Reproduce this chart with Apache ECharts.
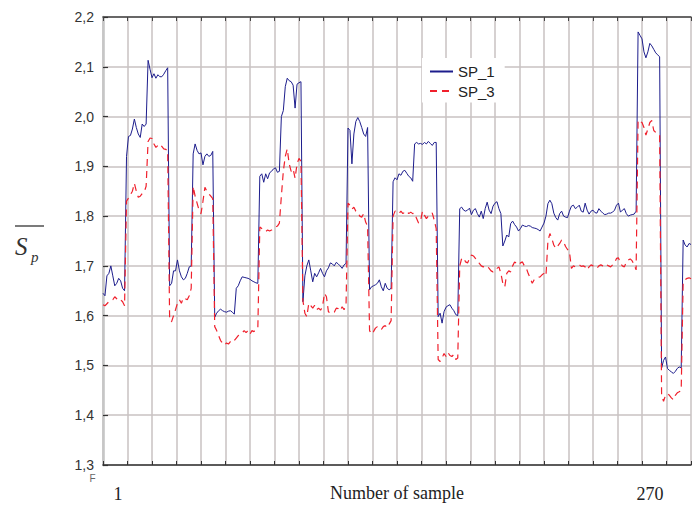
<!DOCTYPE html>
<html>
<head>
<meta charset="utf-8">
<script src="https://cdn.jsdelivr.net/npm/echarts@6/dist/echarts.min.js"></script>
<style>
html, body { margin: 0; padding: 0; background: #fff; }
#main { width: 693px; height: 505px; }
</style>
</head>
<body>
<div id="main"></div>
<script>
// SP_1 / SP_3 per sample (sample 0..300)
var sp1 = [
	1.645, 1.64, 1.68, 1.685, 1.70, 1.68, 1.66, 1.665, 1.675, 1.67, 1.655, 1.65,
	1.92, 1.96, 1.962, 1.975, 1.995, 1.978, 1.965, 1.958, 1.985, 1.98, 1.985,
	2.113, 2.095, 2.078, 2.086, 2.077, 2.084, 2.08, 2.08, 2.085, 2.092, 2.098,
	1.66, 1.665, 1.69, 1.69, 1.712, 1.69, 1.678, 1.672, 1.675, 1.685, 1.698, 1.70,
	1.925, 1.945, 1.932, 1.925, 1.927, 1.903, 1.92, 1.925, 1.92, 1.922, 1.93,
	1.597, 1.605, 1.61, 1.613, 1.61, 1.608, 1.607, 1.609, 1.61, 1.607, 1.603, 1.655,
	1.66, 1.67, 1.678, 1.677, 1.676, 1.675, 1.673, 1.67, 1.668, 1.666, 1.665,
	1.88, 1.885, 1.868, 1.885, 1.875, 1.887, 1.89, 1.895, 1.897, 1.888, 1.89,
	2.0, 2.012, 2.06, 2.077, 2.072, 2.07, 2.063, 2.017, 2.065, 2.068, 2.07,
	1.628, 1.68, 1.70, 1.712, 1.69, 1.668, 1.685, 1.678, 1.686, 1.695, 1.685, 1.678,
	1.69, 1.696, 1.706, 1.704, 1.70, 1.707, 1.704, 1.70, 1.695, 1.702, 1.705,
	1.977, 1.972, 1.905, 1.965, 1.99, 1.998, 1.99, 1.978, 1.965, 1.96, 1.978,
	1.652, 1.658, 1.66, 1.662, 1.665, 1.672, 1.658, 1.65, 1.665, 1.655, 1.652, 1.655,
	1.869, 1.877, 1.873, 1.885, 1.882, 1.89, 1.892, 1.886, 1.88, 1.877, 1.87,
	1.945, 1.948, 1.945, 1.946, 1.944, 1.948, 1.945, 1.95, 1.946, 1.942, 1.948, 1.948,
	1.598, 1.605, 1.585, 1.608, 1.617, 1.62, 1.622, 1.615, 1.61, 1.602, 1.60,
	1.815, 1.818, 1.812, 1.81, 1.812, 1.816, 1.803, 1.812, 1.815, 1.805, 1.798, 1.81,
	1.795, 1.815, 1.828, 1.812, 1.805, 1.82, 1.826, 1.829, 1.815, 1.805, 1.74,
	1.75, 1.762, 1.758, 1.785, 1.79, 1.783, 1.778, 1.77, 1.775, 1.782, 1.78,
	1.779, 1.781, 1.78, 1.777, 1.776, 1.775, 1.773, 1.77, 1.778, 1.786,
	1.80, 1.825, 1.832, 1.825, 1.806, 1.797, 1.792, 1.805, 1.81, 1.80, 1.798, 1.797,
	1.81, 1.82, 1.822, 1.815, 1.818, 1.822, 1.81, 1.808, 1.826, 1.812, 1.804, 1.81,
	1.812, 1.807, 1.806, 1.815, 1.81, 1.806, 1.803, 1.804, 1.806, 1.806, 1.808, 1.812,
	1.822, 1.826, 1.808, 1.812, 1.815, 1.805, 1.80, 1.802, 1.803, 1.804, 1.81,
	2.17, 2.163, 2.156, 2.13, 2.118, 2.13, 2.147, 2.142, 2.135, 2.128, 2.124, 2.12,
	1.495, 1.51, 1.517, 1.494, 1.49, 1.487, 1.484, 1.488, 1.494, 1.497, 1.495,
	1.752, 1.742, 1.738, 1.745, 1.743
];
var sp3 = [
	1.622, 1.62, 1.624, 1.628, 1.63, 1.632, 1.638, 1.634, 1.63, 1.632, 1.628, 1.62,
	1.83, 1.836, 1.843, 1.85, 1.866, 1.85, 1.838, 1.84, 1.845, 1.848, 1.86, 1.95,
	1.957, 1.956, 1.945, 1.938, 1.942, 1.945, 1.94, 1.935, 1.934, 1.932,
	1.59, 1.588, 1.60, 1.612, 1.625, 1.632, 1.625, 1.636, 1.634, 1.632, 1.64, 1.655,
	1.86, 1.84, 1.826, 1.812, 1.805, 1.83, 1.858, 1.85, 1.845, 1.84, 1.835,
	1.578, 1.57, 1.56, 1.55, 1.545, 1.541, 1.545, 1.543, 1.548, 1.552, 1.55, 1.555,
	1.56, 1.562, 1.565, 1.57, 1.566, 1.57, 1.563, 1.57, 1.568, 1.572, 1.575,
	1.778, 1.775, 1.772, 1.769, 1.772, 1.77, 1.772, 1.775, 1.778, 1.78, 1.786, 1.84, 1.89,
	1.92, 1.935, 1.905, 1.89, 1.895, 1.876, 1.905, 1.916, 1.91,
	1.63, 1.605, 1.598, 1.625, 1.62, 1.615, 1.621, 1.612, 1.615, 1.611, 1.618, 1.645,
	1.638, 1.608, 1.605, 1.605, 1.607, 1.615, 1.614, 1.61, 1.618, 1.612, 1.622,
	1.826, 1.822, 1.814, 1.818, 1.81, 1.808, 1.80, 1.798, 1.805, 1.788, 1.78,
	1.57, 1.563, 1.568, 1.575, 1.578, 1.575, 1.572, 1.578, 1.58, 1.576, 1.583, 1.59,
	1.80, 1.81, 1.808, 1.805, 1.81, 1.805, 1.808, 1.81, 1.805, 1.808, 1.805, 1.806,
	1.795, 1.786, 1.79, 1.81, 1.802, 1.795, 1.80, 1.805, 1.806, 1.792, 1.775,
	1.512, 1.508, 1.515, 1.524, 1.518, 1.526, 1.52, 1.518, 1.522, 1.512, 1.515,
	1.70, 1.715, 1.716, 1.708, 1.706, 1.715, 1.722, 1.72, 1.715, 1.712, 1.705, 1.70,
	1.698, 1.70, 1.70, 1.695, 1.69, 1.688, 1.69, 1.695, 1.698, 1.685, 1.665, 1.658,
	1.685, 1.69, 1.688, 1.70, 1.708, 1.705, 1.702, 1.706, 1.708, 1.70, 1.695, 1.684,
	1.675, 1.665, 1.672, 1.675, 1.677, 1.678, 1.682, 1.685, 1.68,
	1.75, 1.765, 1.755, 1.742, 1.735, 1.74, 1.745, 1.752, 1.748, 1.739, 1.733, 1.728,
	1.695, 1.70, 1.698, 1.70, 1.702, 1.699, 1.70, 1.698, 1.692, 1.698, 1.702, 1.70,
	1.698, 1.695, 1.70, 1.702, 1.70, 1.698, 1.702, 1.70, 1.698, 1.702, 1.706, 1.715,
	1.716, 1.705, 1.70, 1.698, 1.708, 1.712, 1.714, 1.71, 1.702, 1.692,
	1.993, 1.99, 1.988, 1.978, 1.963, 1.975, 1.988, 1.992, 1.972, 1.968, 1.966, 1.963,
	1.44, 1.428, 1.44, 1.443, 1.44, 1.435, 1.431, 1.44, 1.445, 1.447, 1.45,
	1.668, 1.672, 1.675, 1.676, 1.674
];
var seriesNames = ['SP_1', 'SP_3'];
var xEndLabels = ['1', '270'];
var xTitle = 'Number of sample';
var yMin = 1.3, yMax = 2.2, yStep = 0.1;
var xMax = 300, xStep = 12.5;

function toPoints(arr) {
	var out = [];
	for (var i = 0; i < arr.length; i++) {
		out.push([i, arr[i]]);
	}
	return out;
}

var myChart = echarts.init(document.getElementById('main'), null, { renderer: 'svg' });
myChart.setOption({
	animation: false,
	backgroundColor: '#fff',
	grid: { left: 103, right: 2, top: 17, bottom: 40, outerBoundsMode: 'none', containLabel: false },
	legend: {
		data: seriesNames,
		orient: 'vertical',
		left: 422,
		top: 58,
		itemWidth: 23,
		itemHeight: 14,
		itemGap: 4.6,
		padding: [6, 10, 4, 7],
		backgroundColor: '#fff',
		itemStyle: { opacity: 0 },
		textStyle: { fontFamily: 'Liberation Sans', fontSize: 15, color: '#222' }
	},
	xAxis: [{
		type: 'value',
		min: 0,
		max: xMax,
		interval: xStep,
		name: xTitle,
		nameLocation: 'middle',
		nameGap: 19,
		nameTextStyle: { fontFamily: 'Liberation Serif', fontSize: 18, color: '#222' },
		axisLine: { onZero: false, lineStyle: { color: '#333', width: 1.5 } },
		axisTick: { inside: true, length: 4, lineStyle: { color: '#333', width: 1 } },
		axisLabel: { show: false },
		splitLine: { show: true, lineStyle: { color: '#c9c2c2', width: 1.5 } }
	}, {
		type: 'value',
		position: 'top',
		min: 0,
		max: xMax,
		interval: xStep,
		axisLine: { onZero: false, lineStyle: { color: '#444', width: 1.5 } },
		axisTick: { inside: true, length: 4, lineStyle: { color: '#444', width: 1 } },
		axisLabel: { show: false },
		splitLine: { show: false }
	}],
	yAxis: {
		type: 'value',
		min: yMin,
		max: yMax,
		interval: yStep,
		axisLine: { show: true, onZero: false, lineStyle: { color: '#c6c6c6', width: 2.6 } },
		axisTick: { show: true, inside: true, length: 5, lineStyle: { color: '#333', width: 1.2 } },
		axisLabel: {
			margin: 9,
			fontFamily: 'Liberation Sans',
			fontSize: 14,
			color: '#333',
			formatter: function(v) {
				return v.toFixed(1).replace('.', ',');
			}
		},
		splitLine: { show: true, lineStyle: { color: '#c9c2c2', width: 1.5 } }
	},
	series: [{
		name: seriesNames[0],
		type: 'line',
		symbol: 'none',
		data: toPoints(sp1),
		lineStyle: { color: '#1d1d8c', width: 1 },
		itemStyle: { color: '#1d1d8c' }
	}, {
		name: seriesNames[1],
		type: 'line',
		symbol: 'none',
		data: toPoints(sp3),
		lineStyle: { color: '#f0202c', width: 1.2, type: [7, 5] },
		itemStyle: { color: '#f0202c' }
	}],
	graphic: [
		// y axis title: S with overline and subscript p
		{ type: 'line', shape: { x1: 15, y1: 226, x2: 44, y2: 226 }, style: { stroke: '#333', lineWidth: 1.3 } },
		{ type: 'text', x: 15, y: 246, style: { text: 'S', fontFamily: 'Liberation Serif', fontStyle: 'italic', fontSize: 25, fill: '#333', align: 'left', verticalAlign: 'middle' } },
		{ type: 'text', x: 31, y: 257, style: { text: 'p', fontFamily: 'Liberation Serif', fontStyle: 'italic', fontSize: 15, fill: '#333', align: 'left', verticalAlign: 'middle' } },
		// first / last sample labels
		{ type: 'text', x: 118, y: 494, style: { text: xEndLabels[0], fontFamily: 'Liberation Serif', fontSize: 18, fill: '#222', align: 'center', verticalAlign: 'middle' } },
		{ type: 'text', x: 650, y: 494, style: { text: xEndLabels[1], fontFamily: 'Liberation Serif', fontSize: 18, fill: '#222', align: 'center', verticalAlign: 'middle' } },
		{ type: 'text', x: 92.5, y: 478, style: { text: 'F', fontFamily: 'Liberation Sans', fontSize: 10, fill: '#666', align: 'center', verticalAlign: 'middle' } }
	]
});
</script>
</body>
</html>
